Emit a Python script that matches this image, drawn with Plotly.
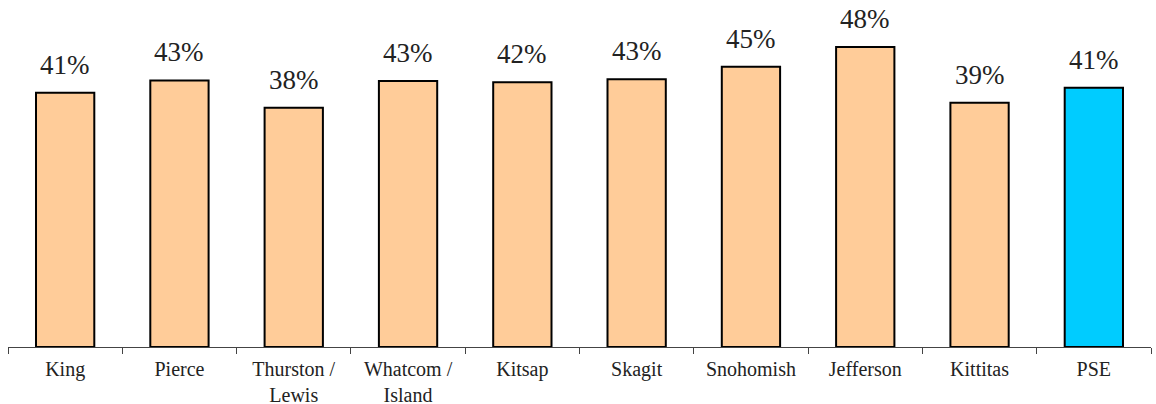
import plotly.graph_objects as go

categories = ["King", "Pierce", "Thurston /<br>Lewis", "Whatcom /<br>Island", "Kitsap",
              "Skagit", "Snohomish", "Jefferson", "Kittitas", "PSE"]
values = [41.0, 43.0, 38.6, 42.9, 42.7, 43.2, 45.2, 48.4, 39.4, 41.8]
value_labels = ["41%", "43%", "38%", "43%", "42%", "43%", "45%", "48%", "39%", "41%"]
bar_colors = ["#FFCC99"] * 9 + ["#00CCFF"]

SERIF = "'Liberation Serif', 'Times New Roman', Times, serif"

fig = go.Figure()
fig.add_trace(go.Bar(
    x=categories, y=values,
    marker=dict(color=bar_colors, line=dict(color="#000000", width=2)),
    hoverinfo="skip",
))

for c, v, t in zip(categories, values, value_labels):
    fig.add_annotation(x=c, y=v, text=t, showarrow=False, yanchor="bottom", yshift=11,
                       font=dict(family=SERIF, size=27, color="#222222"))

fig.update_layout(
    width=1156, height=404,
    margin=dict(l=8, r=5, t=6, b=57),
    paper_bgcolor="white", plot_bgcolor="white",
    bargap=0.49,
    showlegend=False,
    font=dict(family=SERIF, size=20, color="#222222"),
)
fig.update_xaxes(
    showline=True, linecolor="#444444", linewidth=1,
    ticks="outside", tickson="boundaries", ticklen=6, tickcolor="#444444", tickwidth=1,
    tickfont=dict(family=SERIF, size=20, color="#222222"),
    ticklabelstandoff=4,
    showgrid=False, automargin=False,
)
fig.update_yaxes(range=[0, 55.0], visible=False, showgrid=False, zeroline=False)

fig.write_html("out.html", config={"displayModeBar": False},
               post_script="document.body.style.margin='0';document.body.style.overflow='hidden';")
